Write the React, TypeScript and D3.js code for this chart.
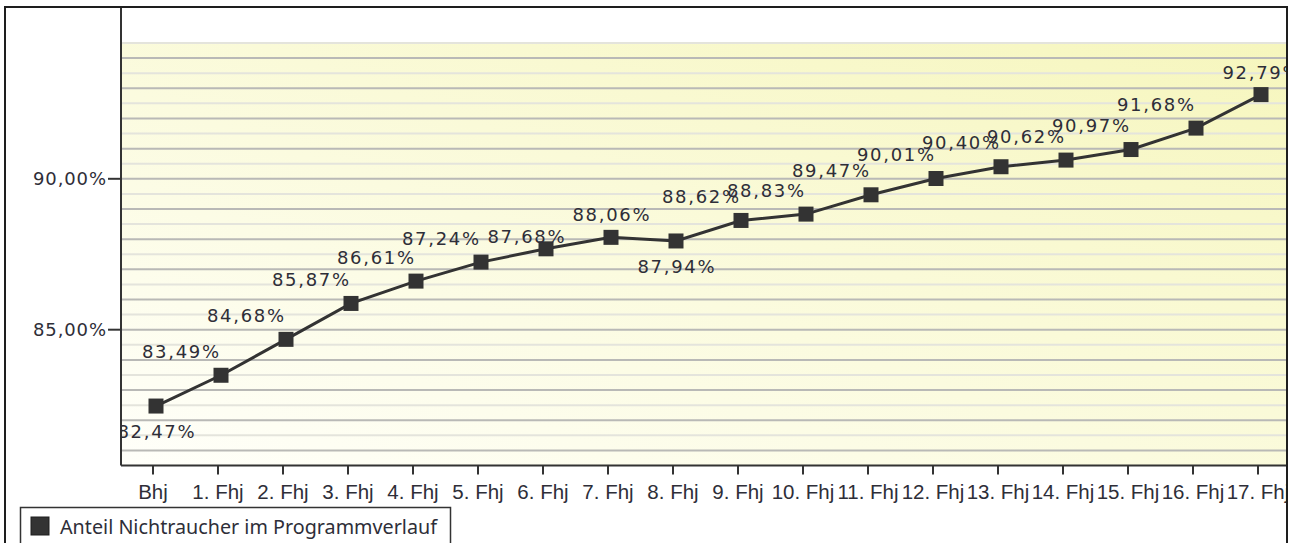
import React from "react";
import * as d3 from "d3";

const categories = [
  "Bhj", "1. Fhj", "2. Fhj", "3. Fhj", "4. Fhj", "5. Fhj", "6. Fhj", "7. Fhj", "8. Fhj",
  "9. Fhj", "10. Fhj", "11. Fhj", "12. Fhj", "13. Fhj", "14. Fhj", "15. Fhj", "16. Fhj", "17. Fhj",
];
const values = [
  82.47, 83.49, 84.68, 85.87, 86.61, 87.24, 87.68, 88.06, 87.94,
  88.62, 88.83, 89.47, 90.01, 90.4, 90.62, 90.97, 91.68, 92.79,
];
const yTicks = [85, 90];
const labelPlacement = [
  "below", "aboveLeft", "aboveLeft", "aboveLeft", "aboveLeft", "aboveLeft", "nearLeft", "above", "below",
  "aboveLeft", "aboveLeft", "aboveLeft", "aboveLeft", "aboveLeft", "aboveLeft", "aboveLeft", "aboveLeft", "above",
];
const seriesName = "Anteil Nichtraucher im Programmverlauf";

const fmt = (v: number) => v.toFixed(2).replace(".", ",") + "%";

export default function App() {
  const W = 1298;
  const H = 543;
  const left = 121;
  const right = 1287;
  const top = 43;
  const bottom = 465.5;

  const x = d3.scaleBand<string>().domain(categories).range([123.5, 1293.5]);
  const y = d3.scaleLinear().domain([80.5, 94.5]).range([bottom, top]);
  const cx = (c: string) => (x(c) as number) + x.bandwidth() / 2;

  const lineGen = d3
    .line<number>()
    .x((_, i) => cx(categories[i]))
    .y((d) => y(d));

  const grid = d3.range(81, 94.51, 0.5);

  const valueFont = "'DejaVu Sans', Verdana, sans-serif";
  const textColor = "#2e2e38";

  const labelProps = (i: number) => {
    const px = cx(categories[i]);
    const py = y(values[i]);
    const kind = labelPlacement[i];
    if (kind === "below") return { x: px, y: py + 32, anchor: "middle" };
    if (kind === "above") return { x: px, y: py - 16, anchor: "middle" };
    if (kind === "nearLeft") return { x: px - 20, y: py - 6, anchor: "middle" };
    return { x: px - 2, y: py - 17.5, anchor: "end" };
  };

  return (
    <svg
      width={W}
      height={H}
      style={{ position: "absolute", left: 0, top: 0, background: "#fff" }}
    >
      <defs>
        <linearGradient id="bg" x1="0" y1="1" x2="1" y2="0">
          <stop offset="0%" stopColor="#fffffa" />
          <stop offset="100%" stopColor="#f6f6bd" />
        </linearGradient>
        <clipPath id="plotClip">
          <rect x={left} y={7} width={right - left} height={bottom - 7} />
        </clipPath>
        <clipPath id="frameClip">
          <rect x={5} y={7} width={right - 5} height={H} />
        </clipPath>
      </defs>

      {/* plot background */}
      <rect x={left} y={top} width={right - left} height={bottom - top} fill="url(#bg)" />

      {/* gridlines */}
      {grid.map((v) => (
        <line
          key={v}
          x1={left}
          x2={right}
          y1={y(v)}
          y2={y(v)}
          stroke={Number.isInteger(v) ? "#b9b9b6" : "#e4e4dc"}
          strokeWidth={2}
        />
      ))}

      {/* y axis */}
      <line x1={left} x2={left} y1={7} y2={bottom} stroke="#333" strokeWidth={2} />
      {yTicks.map((t) => (
        <g key={t}>
          <line x1={108} x2={left} y1={y(t)} y2={y(t)} stroke="#333" strokeWidth={2} />
          <text
            x={106}
            y={y(t) + 6.5}
            textAnchor="end"
            fontFamily={valueFont}
            fontSize={18}
            fill={textColor}
            textLength={73}
            lengthAdjust="spacing"
          >
            {fmt(t)}
          </text>
        </g>
      ))}

      {/* x axis */}
      <g clipPath="url(#frameClip)">
        <line x1={left} x2={right} y1={bottom} y2={bottom} stroke="#333" strokeWidth={2} />
        {categories.map((c) => (
          <g key={c}>
            <line x1={cx(c) - 3} x2={cx(c) - 3} y1={bottom} y2={bottom + 9} stroke="#333" strokeWidth={2} />
            <text
              x={cx(c) - 3}
              y={499}
              textAnchor="middle"
              fontFamily="'Liberation Sans', Arial, sans-serif"
              fontSize={20.5}
              fill={textColor}
            >
              {c}
            </text>
          </g>
        ))}
      </g>

      {/* series */}
      <g clipPath="url(#plotClip)">
        <path d={lineGen(values) || ""} fill="none" stroke="#333" strokeWidth={3} />
        {values.map((v, i) => (
          <rect
            key={i}
            x={cx(categories[i]) - 7.5}
            y={y(v) - 7.5}
            width={15}
            height={15}
            fill="#333"
          />
        ))}
        {values.map((v, i) => {
          const p = labelProps(i);
          return (
            <text
              key={"l" + i}
              x={p.x}
              y={p.y}
              textAnchor={p.anchor}
              fontFamily={valueFont}
              fontSize={18}
              fill={textColor}
              textLength={77}
              lengthAdjust="spacing"
            >
              {fmt(v)}
            </text>
          );
        })}
      </g>

      {/* outer frame */}
      <rect x={5} y={7} width={right - 5} height={H} fill="none" stroke="#1e1e1e" strokeWidth={2} />

      {/* legend */}
      <rect x={20.5} y={507.5} width={430} height={60} fill="#fff" stroke="#333" strokeWidth={1.5} />
      <rect x={31} y={517} width={18} height={18} fill="#333" stroke="#1e1e1e" strokeWidth={1} />
      <text
        x={60}
        y={534}
        fontFamily="'Noto Sans', 'Open Sans', sans-serif"
        fontSize={20}
        fill={textColor}
        textLength={377}
        lengthAdjust="spacingAndGlyphs"
      >
        {seriesName}
      </text>
    </svg>
  );
}
